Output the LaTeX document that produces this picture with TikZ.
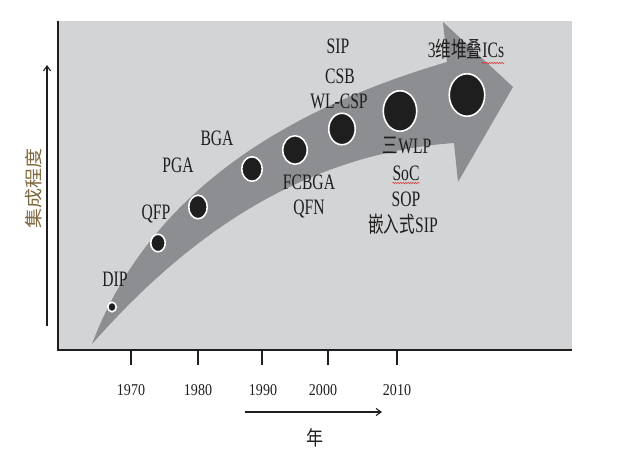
\documentclass[tikz,border=0pt]{standalone}
\usepackage{fontspec}
\setmainfont{Liberation Serif}
\newfontfamily\cjk{Noto Sans CJK SC}
\usetikzlibrary{arrows.meta,shapes.geometric,decorations.pathmorphing}
\definecolor{panel}{HTML}{D3D4D6}
\definecolor{band}{HTML}{8D8E91}
\definecolor{ink}{HTML}{1E1E1E}
\definecolor{ylab}{HTML}{7E6A3E}
\definecolor{spell}{HTML}{E03030}
\tikzset{
  pkg/.style={font=\fontsize{22}{24}\selectfont, text=ink, xscale=0.71,
              anchor=base, inner sep=0pt},
  yr/.style={font=\fontsize{16.5}{18}\selectfont, text=ink, xscale=0.85,
             anchor=base, inner sep=0pt},
  dot/.style={ellipse, fill=ink, draw=white, line width=1.6pt, inner sep=0pt},
  axisarrow/.style={-{Straight Barb[length=5pt,width=7pt]}, line width=1.1pt, ink},
  squiggle/.style={spell, line width=0.5pt, decorate,
                   decoration={snake, amplitude=0.7pt, segment length=2.5pt}},
}

\begin{document}
\begin{tikzpicture}[x=1pt, y=-1pt]
    \useasboundingbox (0,0) rectangle (618,452);
    \fill[panel] (58,21) rectangle (572,350);
    \fill[band] (92,344) .. controls (175,250) and (290,155) .. (454,143)
      -- (458,182) -- (513,87) -- (443,22) -- (447,62)
      .. controls (290,108) and (150,190) .. cycle;
    \draw[ink, line width=2pt] (58,21) -- (58,351);
    \draw[ink, line width=2.5pt] (57,350) -- (572,350);
    \foreach \x/\y/\lx [count=\i] in {131/1970/131, 198/1980/198, 262/1990/263, 328/2000/323, 397/2010/397}
      { \draw[ink, line width=1.5pt] (\x,351) -- (\x,365);
        \node[yr] (yr\i) at (\lx,395) {\y}; }
    \foreach \n/\px/\py/\w/\h in {1/112/307/8.5/9.5, 2/158/243/14.5/17.5, 3/198/207/18.5/23.5, 4/252/169/20.5/24.5,
                                   5/295/150/24.5/28.5, 6/342/129/26.5/31.5, 7/400/111/33.5/40.5, 8/467/95/35.5/42.5}
      { \node[dot, minimum width=\w pt, minimum height=\h pt] (d\n) at (\px,\py) {}; }
    \node[pkg] (dip) at (115,286) {DIP};
    \node[pkg] (qfp) at (156,219) {QFP};
    \node[pkg] (pga) at (178,172) {PGA};
    \node[pkg] (bga) at (217,145) {BGA};
    \node[pkg] (fcbga) at (309,189) {FCBGA};
    \node[pkg] (qfn) at (309,214) {QFN};
    \node[pkg] (sip) at (338,54) {SIP};
    \node[pkg] (csb) at (340,83) {CSB};
    \node[pkg] (wlcsp) at (339,108) {WL-CSP};
    \node[pkg] (wlp) at (407,153) {{\cjk 三}WLP};
    \node[pkg] (soc) at (406,180) {SoC};
    \node[pkg] (sop) at (406,206) {SOP};
    \node[pkg] (esip) at (403,232) {{\cjk 嵌入式}SIP};
    \node[pkg] (ic3d) at (466,58) {3{\cjk 维堆叠}ICs};
    \draw[squiggle] ([yshift=-3pt]soc.base west) -- ([yshift=-3pt]soc.base east);
    \draw[squiggle] ([xshift=-23pt,yshift=-5pt]ic3d.base east) -- ([yshift=-5pt]ic3d.base east);
    \coordinate (ybot) at (47,326);
    \coordinate (ytop) at (47,65);
    \draw[axisarrow] (ybot) -- (ytop);
    \node[font={\cjk\fontsize{20}{20}\selectfont}, text=ylab, rotate=90, yscale=0.9] (ylabel) at (34,188) {集成程度};
    \coordinate (xs) at (245,412);
    \coordinate (xe) at (382,412);
    \draw[axisarrow] (xs) -- (xe);
    \node[font={\cjk\fontsize{20}{20}\selectfont}, text=ink, xscale=0.85] (xlabel) at (315,438) {年};
  \end{tikzpicture}
\end{document}
